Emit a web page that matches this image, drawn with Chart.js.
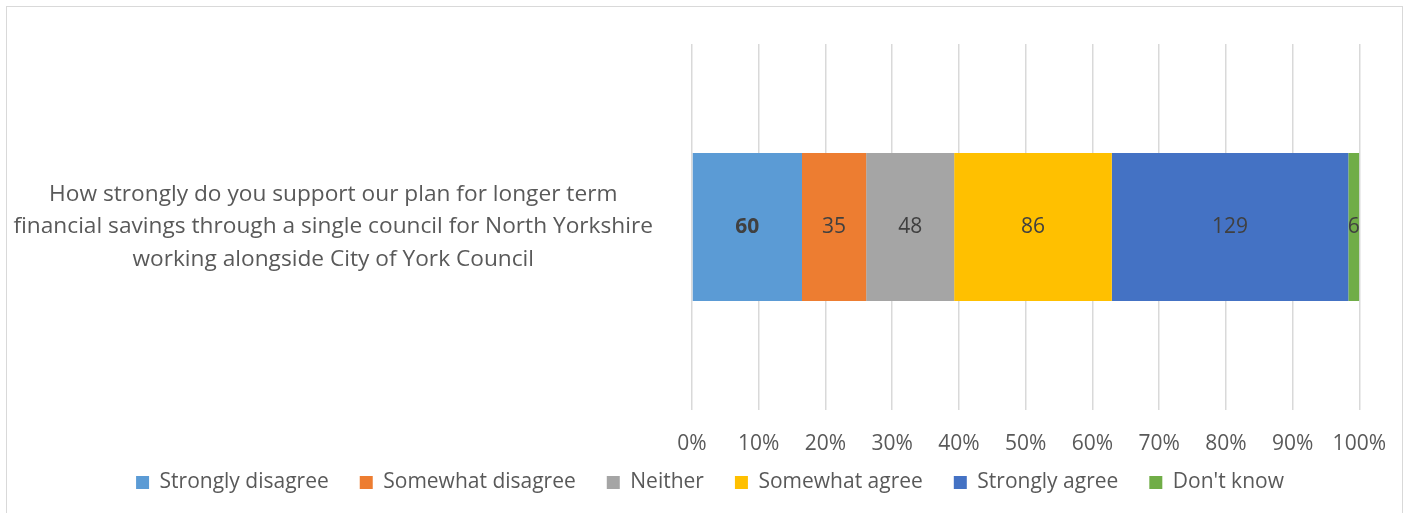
<!DOCTYPE html>
<html>
<head>
<meta charset="utf-8">
<script src="https://cdn.jsdelivr.net/npm/chart.js@4/dist/chart.umd.min.js"></script>
<style>
  html, body { margin: 0; padding: 0; background: #fff; overflow: hidden; }
  #wrap { position: relative; width: 1407px; height: 513px; }
  #frame { position: absolute; left: 6px; top: 6px; width: 1395px; height: 600px; border: 1.5px solid #d9d9d9; pointer-events: none; }
</style>
</head>
<body>
<div id="wrap">
  <canvas id="surveyChart" width="1407" height="513"></canvas>
  <div id="frame"></div>
</div>
<script>
// survey answers (counts), shown as a 100% stacked bar
const questions = [["How strongly do you support our plan for longer term",
  "financial savings through a single council for North Yorkshire",
  "working alongside City of York Council"]];
const answers = ["Strongly disagree", "Somewhat disagree", "Neither", "Somewhat agree", "Strongly agree", "Don't know"];
const counts = [60, 35, 48, 86, 129, 6];
const colors = ['#5b9bd5', '#ed7d31', '#a5a5a5', '#ffc000', '#4472c4', '#70ad47'];
const xTicks = [0, 10, 20, 30, 40, 50, 60, 70, 80, 90, 100];

const total = counts.reduce((a, b) => a + b, 0);
const FONT = "'Open Sans', sans-serif";

// draws the raw counts in the middle of each segment
const countLabels = {
    id: 'countLabels',
    afterDatasetsDraw(chart) {
        const c = chart.ctx;
        c.save();
        c.textAlign = 'center';
        c.textBaseline = 'middle';
        c.fillStyle = '#404040';
        chart.data.datasets.forEach((ds, i) => {
            const bar = chart.getDatasetMeta(i).data[0];
            c.font = (i === 0 ? 'bold ' : '') + '21px ' + FONT;
            c.fillText(String(counts[i]), (bar.x + bar.base) / 2, bar.y);
        });
        c.restore();
    }
};

// nudge the legend box so it sits like the excel one (a bit right, closer to the axis)
const legendSpot = {
    id: 'legendSpot',
    afterUpdate(chart) {
        const lg = chart.legend;
        const h = lg.bottom - lg.top;
        lg.left = 30;
        lg.right = 1390;
        lg.top = 441;
        lg.bottom = 441 + h;
        lg.adjustHitBoxes();
    }
};

const ctx = document.getElementById('surveyChart').getContext('2d');

const surveyChart = new Chart(ctx, {
    type: 'bar',
    data: {
        labels: questions,
        datasets: answers.map((name, i) => ({
            label: name,
            data: [counts[i] / total * 100],
            backgroundColor: colors[i],
            borderWidth: 0,
            barPercentage: 0.81,
            categoryPercentage: 0.5
        }))
    },
    options: {
        indexAxis: 'y',
        responsive: false,
        animation: false,
        layout: { padding: { top: 44, right: 47, bottom: 0, left: 0 } },
        plugins: {
            legend: {
                position: 'bottom',
                maxHeight: 58,
                labels: {
                    boxWidth: 13,
                    boxHeight: 13,
                    padding: 31,
                    color: '#595959',
                    font: { family: FONT, size: 21 }
                }
            },
            tooltip: { enabled: false }
        },
        scales: {
            x: {
                stacked: true,
                min: 0,
                max: 100,
                afterFit: s => { s.height = 45; },
                afterBuildTicks: s => { s.ticks = xTicks.map(v => ({ value: v })); },
                grid: { color: '#d9d9d9', lineWidth: 1.5, drawTicks: false },
                border: { display: false },
                ticks: {
                    padding: 21,
                    color: '#595959',
                    font: { family: FONT, size: 21 },
                    callback: v => v + '%'
                }
            },
            y: {
                stacked: true,
                afterFit: s => { s.width = 692; s.paddingTop = 0; s.paddingBottom = 0; },
                grid: { display: false },
                border: { display: false },
                ticks: {
                    crossAlign: 'center',
                    padding: 31,
                    color: '#595959',
                    font: { family: FONT, size: 22.7, lineHeight: 1.45 }
                }
            }
        }
    },
    plugins: [countLabels, legendSpot]
});
</script>
</body>
</html>
